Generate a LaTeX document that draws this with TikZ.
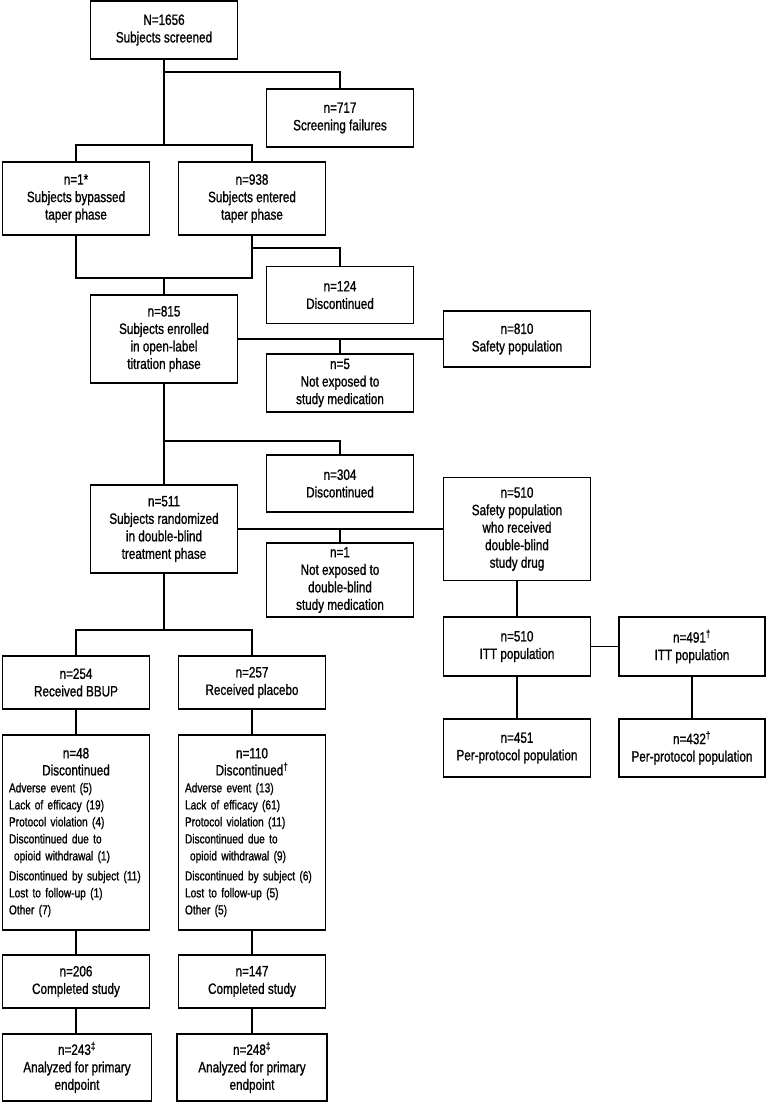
\documentclass[tikz,border=0pt]{standalone}
\usepackage{fontspec}
\setmainfont{Liberation Sans}[FakeStretch=0.78,FakeBold=1]
\newcommand{\boxfont}{\fontsize{15}{17.5}\selectfont}
\newcommand{\listfont}{\fontsize{13}{17}\selectfont}
\newcommand{\headline}[1]{\makebox[134pt][c]{\boxfont #1}}
\tikzset{
  flowbox/.style={draw,line width=1.6pt,align=center,inner sep=0pt,minimum width=147pt,font=\boxfont},
  listbox/.style={flowbox,align=left,text width=134pt,font=\listfont},
  link/.style={line width=1.6pt}
}
\begin{document}
\begin{tikzpicture}[x=1pt,y=-1pt,line join=miter]
\useasboundingbox (0,0) rectangle (766,1103);
% screening and taper
\node[flowbox,minimum height=58pt] (scr) at (164,30) {N=1656\\Subjects screened};
\node[flowbox,minimum height=58pt] (fail) at (340,118) {n=717\\Screening failures};
\node[flowbox,minimum height=73pt] (byp) at (76,198.5) {n=1*\\Subjects bypassed\\taper phase};
\node[flowbox,minimum height=73pt] (taper) at (252,198.5) {n=938\\Subjects entered\\taper phase};
\node[flowbox,minimum height=57pt] (dis1) at (340,295) {n=124\\Discontinued};
% open-label titration
\node[flowbox,minimum height=88pt] (enr) at (164,339) {n=815\\Subjects enrolled\\in open-label\\titration phase};
\node[flowbox,minimum height=56pt] (saf1) at (517,339) {n=810\\Safety population};
\node[flowbox,minimum height=58pt] (nexp1) at (340,383) {n=5\\Not exposed to\\study medication};
\node[flowbox,minimum height=57pt] (dis2) at (340,483.5) {n=304\\Discontinued};
% double-blind phase
\node[flowbox,minimum height=88pt] (rand) at (164,529) {n=511\\Subjects randomized\\in double-blind\\treatment phase};
\node[flowbox,minimum height=103pt] (saf2) at (517,529) {n=510\\Safety population\\who received\\double-blind\\study drug};
\node[flowbox,minimum height=74pt] (nexp2) at (340,580) {n=1\\Not exposed to\\double-blind\\study medication};
\node[flowbox,minimum height=59pt] (itt1) at (517,646.5) {n=510\\ITT population};
\node[flowbox,minimum height=59pt,minimum width=146pt] (itt2) at (692,646.5) {n=491\textsuperscript{†}\\ITT population};
\node[flowbox,minimum height=58pt] (pp1) at (517,748) {n=451\\Per-protocol population};
\node[flowbox,minimum height=58pt,minimum width=146pt] (pp2) at (692,748) {n=432\textsuperscript{†}\\Per-protocol population};
% treatment arms
\node[flowbox,minimum height=53pt] (bbup) at (76,682.5) {n=254\\Received BBUP};
\node[flowbox,minimum height=53pt] (plac) at (252,682.5) {n=257\\Received placebo};
\node[listbox,minimum height=195pt] (disA) at (76,832.5) {\headline{n=48}\\\headline{Discontinued}\\Adverse event (5)\\Lack of efficacy (19)\\Protocol violation (4)\\Discontinued due to\\\hspace*{5pt}opioid withdrawal (1)\\[3pt]Discontinued by subject (11)\\Lost to follow-up (1)\\Other (7)};
\node[listbox,minimum height=195pt] (disB) at (252,832.5) {\headline{n=110}\\\headline{Discontinued\textsuperscript{†}}\\Adverse event (13)\\Lack of efficacy (61)\\Protocol violation (11)\\Discontinued due to\\\hspace*{5pt}opioid withdrawal (9)\\[3pt]Discontinued by subject (6)\\Lost to follow-up (5)\\Other (5)};
\node[flowbox,minimum height=53pt] (cmpA) at (76,981.5) {n=206\\Completed study};
\node[flowbox,minimum height=53pt] (cmpB) at (252,981.5) {n=147\\Completed study};
\node[flowbox,minimum height=67pt,minimum width=149pt] (anaA) at (77,1067.5) {n=243\textsuperscript{‡}\\Analyzed for primary\\endpoint};
\node[flowbox,minimum height=67pt,minimum width=150pt] (anaB) at (252,1067.5) {n=248\textsuperscript{‡}\\Analyzed for primary\\endpoint};
% junctions
\coordinate (j1) at (164,72);
\coordinate (j2) at (164,145);
\coordinate (j3) at (252,248);
\coordinate (j4) at (252,278);
\coordinate (j5) at (164,278);
\coordinate (j6) at (340,339);
\coordinate (j7) at (164,441);
\coordinate (j8) at (340,529);
\coordinate (j9) at (164,630);
% connectors
\draw[link] (scr.south) -- (j1) -| (fail.north);
\draw[link] (j1) -- (j2);
\draw[link] (byp.north) |- (j2) -| (taper.north);
\draw[link] (byp.south) |- (j4) -- (taper.south);
\draw[link] (j3) -| (dis1.north);
\draw[link] (j5) -- (enr.north);
\draw[link] (enr.east) -- (saf1.west);
\draw[link] (j6) -- (nexp1.north);
\draw[link] (enr.south) -- (j7) -| (dis2.north);
\draw[link] (j7) -- (rand.north);
\draw[link] (rand.east) -- (saf2.west);
\draw[link] (j8) -- (nexp2.north);
\draw[link] (saf2.south) -- (itt1.north);
\draw[link] (itt1.east) -- (itt2.west);
\draw[link] (itt1.south) -- (pp1.north);
\draw[link] (itt2.south) -- (pp2.north);
\draw[link] (rand.south) -- (j9);
\draw[link] (bbup.north) |- (j9) -| (plac.north);
\draw[link] (bbup.south) -- (disA.north);
\draw[link] (plac.south) -- (disB.north);
\draw[link] (disA.south) -- (cmpA.north);
\draw[link] (disB.south) -- (cmpB.north);
\draw[link] (cmpA.south) -- (anaA.north -| cmpA.south);
\draw[link] (cmpB.south) -- (anaB.north);
\end{tikzpicture}
\end{document}
